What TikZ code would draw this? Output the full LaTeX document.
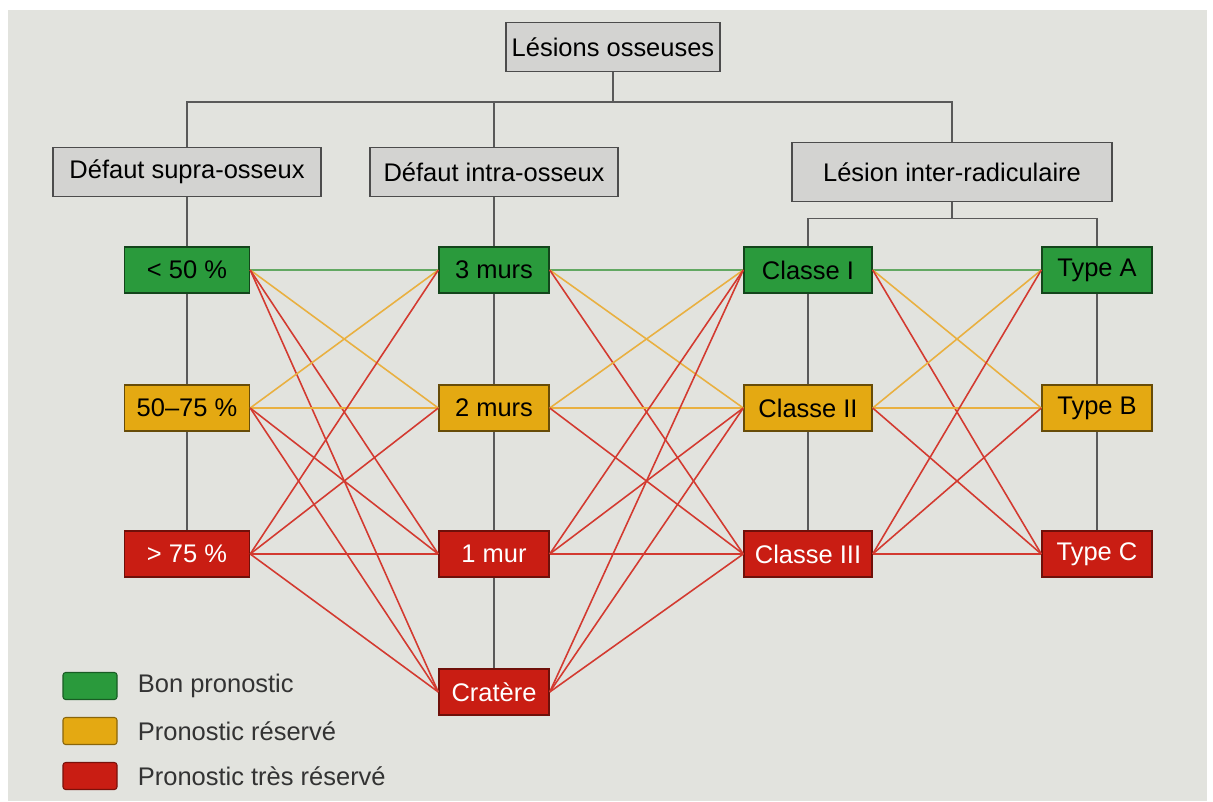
\documentclass[tikz,border=0pt]{standalone}
\usepackage{fontspec}
\setmainfont{Liberation Sans}
\usetikzlibrary{positioning,backgrounds}
\definecolor{bgpaper}{HTML}{E2E3DE}
\definecolor{boxgray}{HTML}{D3D3D1}
\definecolor{bongreen}{HTML}{2A9A3C}
\definecolor{resorange}{HTML}{E4A912}
\definecolor{tresred}{HTML}{C91D13}
\definecolor{linkgreen}{HTML}{62A862}
\definecolor{linkorange}{HTML}{E9B040}
\definecolor{linkred}{HTML}{D33A30}
\tikzset{
	greybox/.style={draw=black!70, fill=boxgray, line width=0.8pt, minimum height=0.98cm, inner sep=0pt},
	grade1/.style={draw=bongreen!45!black, fill=bongreen, line width=0.8pt, minimum height=0.92cm, inner sep=0pt},
	grade2/.style={draw=resorange!45!black, fill=resorange, line width=0.8pt, minimum height=0.92cm, inner sep=0pt},
	grade3/.style={draw=tresred!55!black, fill=tresred, text=white, line width=0.8pt, minimum height=0.92cm, inner sep=0pt},
	link1/.style={draw=linkgreen, line width=0.9pt},
	link2/.style={draw=linkorange, line width=0.9pt},
	link3/.style={draw=linkred, line width=0.9pt},
	tree/.style={draw=black!65, line width=0.9pt},
	legbox/.style={minimum width=1.08cm, minimum height=0.54cm, inner sep=0pt, rounded corners=1.5pt, line width=0.6pt}
}

\begin{document}
\begin{tikzpicture}[font=\fontsize{14.5pt}{17pt}\selectfont]
		\useasboundingbox (0,0) rectangle (24.26,-16.02);

		%top of the tree
		\node[greybox, minimum width=4.28cm] (les) at (12.26,-0.94) {Lésions osseuses};
		\node[greybox, minimum width=5.36cm] (supra) at (3.74,-3.44) {Défaut supra-osseux};
		\node[greybox, minimum width=4.96cm] (intra) at (9.88,-3.44) {Défaut intra-osseux};
		\node[greybox, minimum width=6.4cm, minimum height=1.18cm] (inter) at (19.04,-3.44) {Lésion inter-radiculaire};

		%supra-osseux
		\node[grade1, minimum width=2.5cm] (s1) at (3.74,-5.40) {< 50 \%};
		\node[grade2, minimum width=2.5cm] (s2) at (3.74,-8.16) {50--75 \%};
		\node[grade3, minimum width=2.5cm] (s3) at (3.74,-11.08) {> 75 \%};

		%intra-osseux
		\node[grade1, minimum width=2.2cm] (m3) at (9.88,-5.40) {3 murs};
		\node[grade2, minimum width=2.2cm] (m2) at (9.88,-8.16) {2 murs};
		\node[grade3, minimum width=2.2cm] (m1) at (9.88,-11.08) {1 mur};
		\node[grade3, minimum width=2.2cm] (cr) at (9.88,-13.84) {Cratère};

		%inter-radiculaire
		\node[grade1, minimum width=2.56cm] (c1) at (16.16,-5.40) {Classe I};
		\node[grade2, minimum width=2.56cm] (c2) at (16.16,-8.16) {Classe II};
		\node[grade3, minimum width=2.56cm] (c3) at (16.16,-11.08) {Classe III};
		\node[grade1, minimum width=2.2cm] (ta) at (21.94,-5.40) {Type A};
		\node[grade2, minimum width=2.2cm] (tb) at (21.94,-8.16) {Type B};
		\node[grade3, minimum width=2.2cm] (tc) at (21.94,-11.08) {Type C};

		%legend
		\node[legbox, draw=bongreen!60!black, fill=bongreen] (lg1) at (1.8,-13.72) {};
		\node[legbox, draw=resorange!60!black, fill=resorange] (lg2) at (1.8,-14.62) {};
		\node[legbox, draw=tresred!60!black, fill=tresred] (lg3) at (1.8,-15.52) {};
		\node[right=0.4cm of lg1, inner sep=0pt, text=black!80] (lt1) {Bon pronostic};
		\node[right=0.4cm of lg2, inner sep=0pt, text=black!80] (lt2) {Pronostic réservé};
		\node[right=0.4cm of lg3, inner sep=0pt, text=black!80] (lt3) {Pronostic très réservé};

		%links, coloured by the worse grade
		\foreach \a/\ga in {s1/1,s2/2,s3/3}
			\foreach \b/\gb in {m3/1,m2/2,m1/3,cr/3}
			{\pgfmathtruncatemacro{\g}{max(\ga,\gb)}
			\draw[link\g] (\a.east) -- (\b.west);}
		\foreach \a/\ga in {m3/1,m2/2,m1/3,cr/3}
			\foreach \b/\gb in {c1/1,c2/2,c3/3}
			{\pgfmathtruncatemacro{\g}{max(\ga,\gb)}
			\draw[link\g] (\a.east) -- (\b.west);}
		\foreach \a/\ga in {c1/1,c2/2,c3/3}
			\foreach \b/\gb in {ta/1,tb/2,tc/3}
			{\pgfmathtruncatemacro{\g}{max(\ga,\gb)}
			\draw[link\g] (\a.east) -- (\b.west);}

		%paper and tree lines behind the boxes
		\begin{scope}[on background layer]
			\fill[white] (0,0) rectangle (24.26,-16.02);
			\fill[bgpaper] (0.16,-0.2) rectangle (24.14,-16.02);
			\draw[tree] (les.south) -- ++(0,-0.6) coordinate (bar);
			\draw[tree] (supra.north) |- (bar) -| (inter.north);
			\draw[tree] (intra.north) -- (intra.north |- bar);
			\draw[tree] (inter.south) -- ++(0,-0.33) coordinate (ibar);
			\draw[tree] (c1.north) |- (ibar) -| (ta.north);
			\draw[tree] (supra.south) -- (s3.north);
			\draw[tree] (intra.south) -- (cr.north);
			\draw[tree] (c1.south) -- (c3.north);
			\draw[tree] (ta.south) -- (tc.north);
		\end{scope}
\end{tikzpicture}
\end{document}
